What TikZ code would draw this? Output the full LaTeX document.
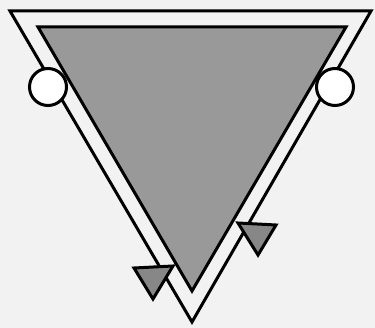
\documentclass[tikz,border=0pt]{standalone}
\begin{document}
\begin{tikzpicture}[x=1pt,y=-1pt,
  shape line/.style={draw=black,line width=3pt,line join=miter},
  bigtri/.style={shape line,fill=gray60},
  smalltri/.style={shape line,fill=gray53},
  knob/.style={circle,draw=black,line width=3pt,fill=white,minimum size=37pt,inner sep=0pt}]
\definecolor{bg}{HTML}{F2F2F2}
\definecolor{gray60}{HTML}{999999}
\definecolor{gray53}{HTML}{878787}
\fill[bg] (0,0) rectangle (375,328);
\useasboundingbox (0,0) rectangle (375,328);
% outer triangle
\draw[shape line,fill=bg] (10,11) -- (371,11) -- (192,322) -- cycle;
% inner triangle
\draw[bigtri] (38,27) -- (346,27) -- (192,291) -- cycle;
% small triangles
\draw[smalltri] (134,268) -- (173,266) -- (153,299) -- cycle;
\draw[smalltri] (238,223) -- (276,225) -- (258,255) -- cycle;
% circles
\node[knob] (left) at (48,87) {};
\node[knob] (right) at (335,87) {};
\end{tikzpicture}
\end{document}
